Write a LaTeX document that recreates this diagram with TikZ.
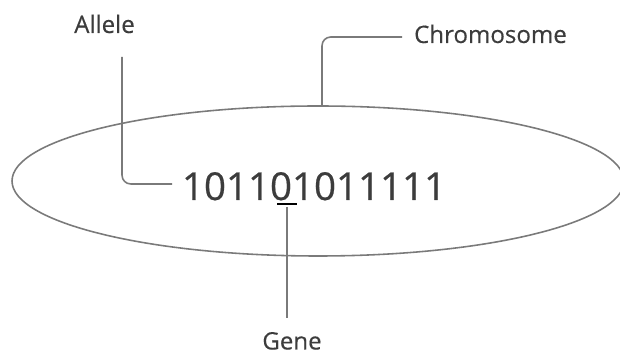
\documentclass[tikz,border=0pt]{standalone}
\usepackage{fontspec}
\setmainfont{Open Sans}
\newfontfamily\bitfont[FakeBold=0.5]{Open Sans}
\newfontfamily\tagfont[FakeBold=0.25]{Open Sans}
\usepackage{xcolor}
\usepackage{tikz}

\definecolor{linegray}{HTML}{7A7A7A}
\definecolor{textgray}{HTML}{3C3C3C}

\begin{document}
\begin{tikzpicture}[x=0.02cm, y=-0.02cm,
    label/.style={text=textgray, inner sep=0pt, anchor=base,
        font=\tagfont\fontsize{13.7}{16}\selectfont},
    leader/.style={draw=linegray, line width=0.9pt, rounded corners=5},
]
    \useasboundingbox (0,0) rectangle (620,354);
    \clip (0,0) rectangle (620,354);

    % chromosome
    \draw [linegray, line width=0.9pt] (318,181) ellipse [x radius=306, y radius=75];

    % bit string
    \node [text=textgray, inner sep=0pt, anchor=base,
        font=\bitfont\fontsize{21.9}{26}\selectfont,
    ] (bits) at (314,200) {101101011111};

    % labels
    \node [label] (allele) at (104.5,33) {Allele};
    \node [label] (chromo) at (490.5,43) {Chromosome};
    \node [label] (gene) at (292,349.5) {Gene};

    % leader ends
    \coordinate (alleletop) at (122,57);
    \coordinate (allelebit) at (172,184);
    \coordinate (chromotop) at (322,106);
    \coordinate (chromoend) at (402,37);
    \coordinate (genel) at (277,204);
    \coordinate (gener) at (297,204);
    \coordinate (genetop) at (287,207);
    \coordinate (genebot) at (287,318);

    \draw [leader] (alleletop) |- (allelebit);
    \draw [leader] (chromotop) |- (chromoend);
    \draw [black, line width=0.9pt] (genel) -- (gener);
    \draw [leader] (genetop) -- (genebot);
\end{tikzpicture}
\end{document}
